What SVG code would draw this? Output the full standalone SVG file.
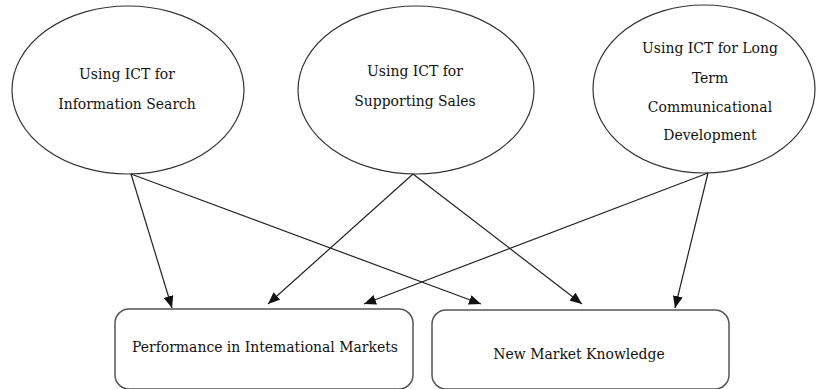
<svg xmlns="http://www.w3.org/2000/svg" width="817" height="389" viewBox="0 0 817 389">
<style>
.n{fill:#fff;stroke:#333;stroke-width:1.2}
.b{fill:#fff;stroke:#555;stroke-width:1.5}
text{font-family:'DejaVu Serif Condensed','DejaVu Serif',serif;font-stretch:condensed;font-size:15.5px;fill:#111;text-anchor:middle}
.c{stroke:#222;stroke-width:1.2;fill:none;marker-end:url(#ah)}
</style>
<defs>
<marker id="ah" viewBox="0 0 12 10" refX="12" refY="5" markerWidth="12" markerHeight="10" markerUnits="userSpaceOnUse" orient="auto">
<path d="M0,0 L12,5 L0,10 Z" fill="#111"/>
</marker>
</defs>
<rect width="817" height="389" fill="#fff"/>
<g id="n1"><ellipse class="n" cx="128" cy="90" rx="116" ry="84"/>
<text x="127" y="79">Using ICT for</text><text x="127" y="109">Information Search</text></g>
<g id="n2"><ellipse class="n" cx="416" cy="90" rx="118" ry="84"/>
<text x="415" y="76">Using ICT for</text><text x="415" y="106">Supporting Sales</text></g>
<g id="n3"><ellipse class="n" cx="704" cy="89" rx="111" ry="84"/>
<text x="710" y="53">Using ICT for Long</text><text x="710" y="83">Term</text><text x="710" y="112">Communicational</text><text x="710" y="140">Development</text></g>
<g id="n4"><rect class="b" x="115" y="309" width="298" height="80" rx="14"/>
<text x="265" y="352">Performance in Intemational Markets</text></g>
<g id="n5"><rect class="b" x="432" y="310" width="297" height="79" rx="14"/>
<text x="579" y="359">New Market Knowledge</text></g>
<g id="connectors">
<line class="c" x1="131" y1="174" x2="172" y2="308"/>
<line class="c" x1="131" y1="174" x2="481" y2="304"/>
<line class="c" x1="413" y1="174" x2="268" y2="304"/>
<line class="c" x1="413" y1="174" x2="582" y2="304"/>
<line class="c" x1="708" y1="173" x2="364" y2="304"/>
<line class="c" x1="708" y1="173" x2="675" y2="308"/>
</g>
</svg>
